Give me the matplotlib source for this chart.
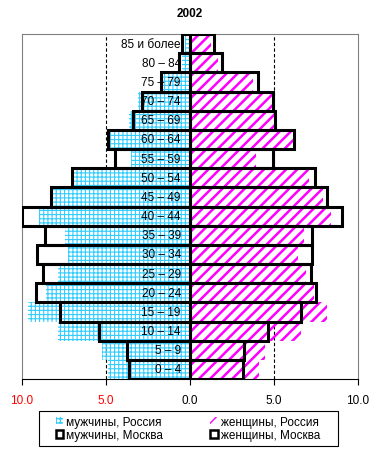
import matplotlib
matplotlib.use("Agg")
import matplotlib.pyplot as plt
from matplotlib.patches import Patch, Rectangle
import numpy as np

plt.rcParams['font.family'] = ['Liberation Sans', 'DejaVu Sans']

title = "2002"
ages = ["0 – 4", "5 – 9", "10 – 14", "15 – 19", "20 – 24", "25 – 29", "30 – 34",
        "35 – 39", "40 – 44", "45 – 49", "50 – 54", "55 – 59", "60 – 64",
        "65 – 69", "70 – 74", "75 – 79", "80 – 84", "85 и более"]
male_russia = [4.86, 5.26, 7.84, 9.62, 8.57, 7.84, 7.24, 7.44, 8.97, 8.17, 6.94,
               3.51, 4.86, 3.61, 3.07, 1.6, 0.5, 0.3]
female_russia = [4.11, 4.46, 6.61, 8.13, 7.38, 6.88, 6.41, 6.79, 8.37, 7.94, 7.08,
                 3.91, 6.11, 5.0, 5.02, 3.77, 1.69, 1.23]
male_moscow = [3.65, 3.77, 5.42, 7.74, 9.19, 8.77, 9.13, 8.63, 10.0, 8.27, 7.04,
               4.46, 4.9, 3.41, 2.88, 1.75, 0.65, 0.49]
female_moscow = [3.17, 3.21, 4.66, 6.63, 7.5, 7.18, 7.26, 7.26, 9.05, 8.15, 7.44,
                 4.92, 6.19, 5.08, 4.96, 4.07, 1.9, 1.43]
xticks = [-10, -5, 0, 5, 10]
legend_labels = ["мужчины, Россия", "мужчины, Москва", "женщины, Россия", "женщины, Москва"]

cyan = "#33CCFF"
magenta = "#FF00FF"
FS = 8.5

fig = plt.figure(figsize=(3.8, 4.6), dpi=100)
ax = fig.add_axes([22/380, 1-380/460, 336/380, 345/460])

y = np.arange(len(ages))
mm = -np.array(male_moscow)
mr = -np.array(male_russia)
fm = np.array(female_moscow)
fr = np.array(female_russia)

# gridlines
for gx in (-5, 5):
    ax.axvline(gx, color="black", lw=0.8, ls=(0, (3, 2)), zorder=0)

# Moscow fill
ax.barh(y, mm, height=1.0, color="white", edgecolor="none", zorder=1)
ax.barh(y, fm, height=1.0, color="white", edgecolor="none", zorder=1)

with plt.rc_context({'hatch.linewidth': 0.8}):
    ax.barh(y, mr, height=1.0, facecolor="none", edgecolor=cyan, hatch="++++",
            linewidth=0, zorder=2)
    male_h = Patch(facecolor="white", edgecolor=cyan, hatch="++++", linewidth=0)
with plt.rc_context({'hatch.linewidth': 1.8}):
    ax.barh(y, fr, height=1.0, facecolor="none", edgecolor=magenta, hatch="///",
            linewidth=0, zorder=2)
    fem_h = Patch(facecolor="white", edgecolor=magenta, hatch="///", linewidth=0)

# Moscow outlines
ax.barh(y, mm, height=1.0, facecolor="none", edgecolor="black", linewidth=2.2, zorder=3)
ax.barh(y, fm, height=1.0, facecolor="none", edgecolor="black", linewidth=2.2, zorder=3)

for yi, lab in zip(y, ages):
    ax.text(-0.55, yi, lab, ha="right", va="center", fontsize=FS, zorder=4)

ax.set_xlim(-10, 10)
ax.set_ylim(-0.5, len(ages) - 0.5)
ax.set_yticks([])
ax.set_xticks(xticks)
ax.set_xticklabels([f"{abs(v):.1f}" for v in xticks], fontsize=FS)
for lab, v in zip(ax.get_xticklabels(), xticks):
    lab.set_color("red" if v < 0 else "black")
ax.tick_params(axis="x", direction="out", length=4, width=0.8, pad=7)
for s in ("top", "left", "right"):
    ax.spines[s].set_color("#808080")
    ax.spines[s].set_linewidth(0.8)
ax.spines["bottom"].set_color("black")
ax.spines["bottom"].set_linewidth(0.8)

fig.text(190/380, 1-14/460, title, ha="center", va="center", fontsize=FS, fontweight="bold")

mos_h = Patch(facecolor="white", edgecolor="black", linewidth=1.8)
leg = fig.legend([male_h, mos_h, fem_h, mos_h], legend_labels, ncol=2,
                 loc="center", bbox_to_anchor=(188/380, 1-429.5/460),
                 fontsize=FS, frameon=False,
                 handlelength=0.6, handleheight=0.6, handletextpad=0.3,
                 columnspacing=4.0, borderpad=0.0, labelspacing=0.15)
fig.patches.append(Rectangle((39/380, 1-447/460), 299/380, 35/460,
                             transform=fig.transFigure, facecolor="none",
                             edgecolor="black", linewidth=0.8))

fig.savefig("out.png", dpi=100)
